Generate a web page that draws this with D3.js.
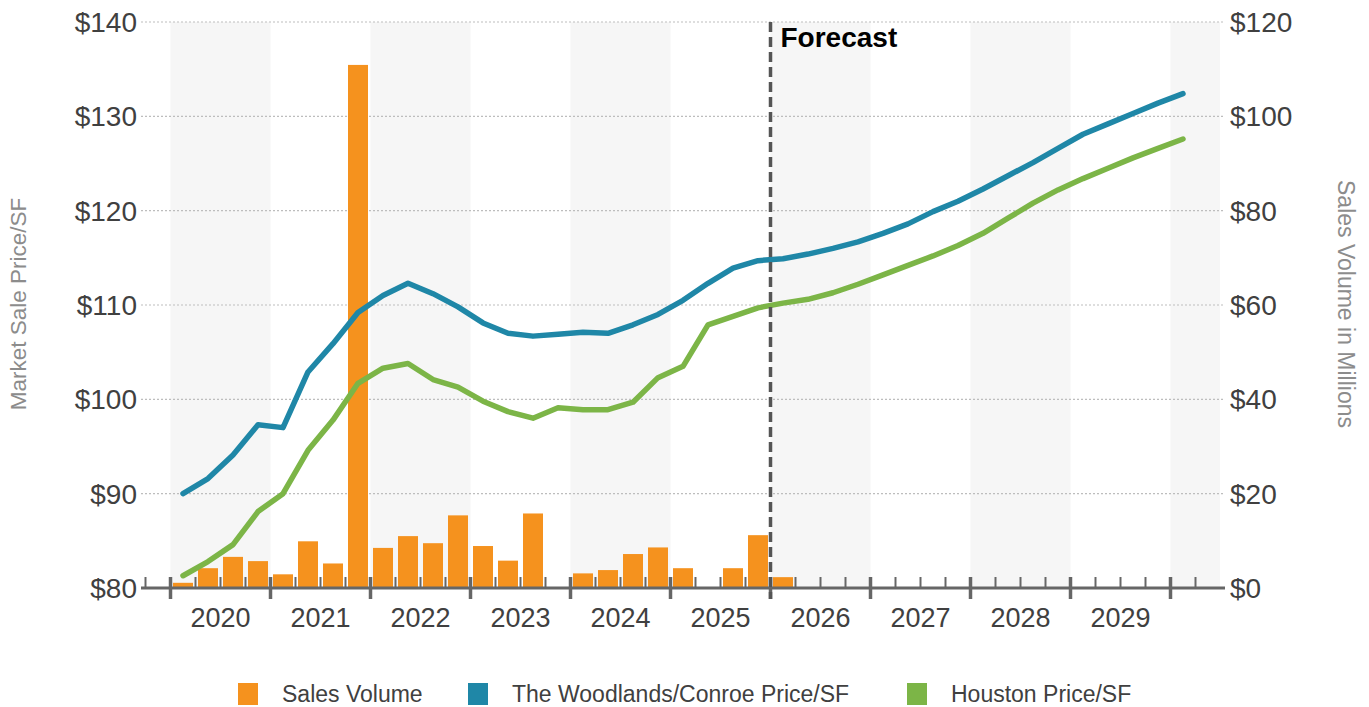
<!DOCTYPE html>
<html>
<head>
<meta charset="utf-8">
<script src="https://cdn.jsdelivr.net/npm/d3@7/dist/d3.min.js"></script>
<style>
  html, body { margin: 0; padding: 0; background: #fff; }
  svg { display: block; font-family: "Liberation Sans", Arial, sans-serif; }
</style>
</head>
<body>
<svg id="chart" width="1369" height="707"></svg>
<script>
// Calendar years on the axis, quarterly periods from 2020 Q1 to 2030 Q1
const years = [2020, 2021, 2022, 2023, 2024, 2025, 2026, 2027, 2028, 2029];
const quarters = [];
for (let y = 2020; y <= 2030; y++) {
  for (let q = 1; q <= 4; q++) {
    if (y === 2030 && q > 1) break;
    quarters.push(y + " Q" + q);
  }
}

// Sales volume ($M) per quarter, history through 2026 Q1
const salesVolume = [
  1.1, 4.2, 6.6, 5.7,
  2.9, 9.9, 5.2, 110.9,
  8.5, 11.0, 9.5, 15.4,
  8.9, 5.8, 15.8, 0,
  3.1, 3.8, 7.2, 8.6,
  4.2, 0, 4.2, 11.2,
  2.3
];

// Market sale price per SF, The Woodlands/Conroe submarket
const woodlandsPrice = [
  90.0, 91.6, 94.1, 97.3,
  97.0, 102.9, 105.9, 109.2,
  111.0, 112.3, 111.2, 109.8,
  108.1, 107.0, 106.7, 106.9,
  107.1, 107.0, 107.9, 109.0,
  110.5, 112.3, 113.9, 114.7,
  114.9, 115.4, 116.0, 116.7,
  117.6, 118.6, 119.9, 121.0,
  122.3, 123.7, 125.1, 126.6,
  128.1, 129.2, 130.3, 131.4,
  132.4
];

// Market sale price per SF, Houston metro
const houstonPrice = [
  81.3, 82.8, 84.6, 88.1,
  90.0, 94.6, 97.8, 101.7,
  103.3, 103.8, 102.1, 101.3,
  99.8, 98.7, 98.0, 99.1,
  98.9, 98.9, 99.7, 102.3,
  103.5, 107.9, 108.8, 109.7,
  110.2, 110.6, 111.3, 112.2,
  113.2, 114.2, 115.2, 116.3,
  117.6, 119.2, 120.8, 122.2,
  123.4, 124.5, 125.6, 126.6,
  127.6
];

const priceTicks = [80, 90, 100, 110, 120, 130, 140];
const volumeTicks = [0, 20, 40, 60, 80, 100, 120];
const forecastStart = 2026;

const colors = { sales: "#F5921E", woodlands: "#1F87A7", houston: "#7CB547" };

const svg = d3.select("#chart");
const plotLeft = 141, plotRight = 1225, plotTop = 22, plotBottom = 588;

// time position in fractional years
const x = d3.scaleLinear().domain([2019.75, 2030.5]).range([145.5, 1220.5]);
const yPrice = d3.scaleLinear().domain([80, 140]).range([plotBottom, plotTop]);
const yVol = d3.scaleLinear().domain([0, 120]).range([plotBottom, plotTop]);

const quarterTime = i => 2020 + Math.floor(i / 4) + (i % 4) / 4; // start of quarter
const quarterMid = i => quarterTime(i) + 0.125;

// alternating year bands
const bandYears = [2020, 2022, 2024, 2026, 2028, 2030];
svg.append("g").selectAll("rect").data(bandYears).join("rect")
  .attr("x", d => x(d))
  .attr("y", plotTop)
  .attr("width", d => Math.min(x(d + 1), plotRight - 5) - x(d))
  .attr("height", plotBottom - plotTop)
  .attr("fill", "#F6F6F6");

// dotted gridlines
svg.append("g").selectAll("line").data(priceTicks.filter(d => d > 80)).join("line")
  .attr("x1", plotLeft).attr("x2", plotRight)
  .attr("y1", d => yPrice(d)).attr("y2", d => yPrice(d))
  .attr("stroke", "#BDBDBD").attr("stroke-width", 1.2)
  .attr("stroke-dasharray", "2,2");

// sales volume bars
const barW = 20;
svg.append("g").selectAll("rect").data(salesVolume).join("rect")
  .attr("x", (d, i) => x(quarterMid(i)) - barW / 2)
  .attr("y", d => yVol(d))
  .attr("width", barW)
  .attr("height", d => yVol(0) - yVol(d))
  .attr("fill", colors.sales);

// price lines
const line = d3.line()
  .x((d, i) => x(quarterMid(i)))
  .y(d => yPrice(d));

svg.append("path").datum(woodlandsPrice)
  .attr("d", line)
  .attr("fill", "none").attr("stroke", colors.woodlands)
  .attr("stroke-width", 5.5).attr("stroke-linejoin", "round").attr("stroke-linecap", "round");

svg.append("path").datum(houstonPrice)
  .attr("d", line)
  .attr("fill", "none").attr("stroke", colors.houston)
  .attr("stroke-width", 5.5).attr("stroke-linejoin", "round").attr("stroke-linecap", "round");

// bottom axis line with quarter and year ticks
const axisG = svg.append("g");
axisG.append("line")
  .attr("x1", plotLeft).attr("x2", plotRight)
  .attr("y1", plotBottom).attr("y2", plotBottom)
  .attr("stroke", "#666").attr("stroke-width", 3);

const minorTicks = d3.range(43).map(k => 2019.75 + k * 0.25).filter(t => Math.abs(t - Math.round(t)) > 1e-6);
axisG.selectAll("line.minor").data(minorTicks).join("line")
  .attr("class", "minor")
  .attr("x1", d => x(d)).attr("x2", d => x(d))
  .attr("y1", plotBottom - 11).attr("y2", plotBottom)
  .attr("stroke", "#666").attr("stroke-width", 2);

const majorTicks = years.concat([2030]);
axisG.selectAll("line.major").data(majorTicks).join("line")
  .attr("class", "major")
  .attr("x1", d => x(d)).attr("x2", d => x(d))
  .attr("y1", plotBottom - 11).attr("y2", plotBottom + 11)
  .attr("stroke", "#666").attr("stroke-width", 3.5);

// year labels
axisG.selectAll("text").data(years).join("text")
  .attr("x", d => x(d + 0.5))
  .attr("y", 627)
  .attr("text-anchor", "middle")
  .attr("font-size", 27)
  .attr("fill", "#404040")
  .text(d => d);

// left axis labels
svg.append("g").selectAll("text").data(priceTicks).join("text")
  .attr("x", 137)
  .attr("y", d => yPrice(d) + 10)
  .attr("text-anchor", "end")
  .attr("font-size", 28)
  .attr("fill", "#404040")
  .text(d => "$" + d);

// right axis labels
svg.append("g").selectAll("text").data(volumeTicks).join("text")
  .attr("x", 1230)
  .attr("y", d => yVol(d) + 10)
  .attr("text-anchor", "start")
  .attr("font-size", 28)
  .attr("fill", "#404040")
  .text(d => "$" + d);

// axis titles
svg.append("text")
  .attr("transform", "translate(26,304) rotate(-90)")
  .attr("text-anchor", "middle")
  .attr("font-size", 22.5)
  .attr("fill", "#8C8C8C")
  .text("Market Sale Price/SF");

svg.append("text")
  .attr("transform", "translate(1338,304) rotate(90)")
  .attr("text-anchor", "middle")
  .attr("font-size", 23)
  .attr("fill", "#8C8C8C")
  .text("Sales Volume in Millions");

// forecast divider
svg.append("line")
  .attr("x1", x(forecastStart)).attr("x2", x(forecastStart))
  .attr("y1", plotTop).attr("y2", plotBottom + 11)
  .attr("stroke", "#555").attr("stroke-width", 3.5)
  .attr("stroke-dasharray", "10,5");

svg.append("text")
  .attr("x", x(forecastStart) + 10)
  .attr("y", 47)
  .attr("font-size", 28)
  .attr("font-weight", "bold")
  .attr("fill", "#000")
  .text("Forecast");

// legend
const legendItems = [
  { label: "Sales Volume", color: colors.sales, x: 238 },
  { label: "The Woodlands/Conroe Price/SF", color: colors.woodlands, x: 468 },
  { label: "Houston Price/SF", color: colors.houston, x: 907 }
];
const lg = svg.append("g").selectAll("g").data(legendItems).join("g")
  .attr("transform", d => `translate(${d.x},683)`);
lg.append("rect").attr("width", 20).attr("height", 22).attr("fill", d => d.color);
lg.append("text")
  .attr("x", 44).attr("y", 19)
  .attr("font-size", 23)
  .attr("fill", "#404040")
  .text(d => d.label);
</script>
</body>
</html>
